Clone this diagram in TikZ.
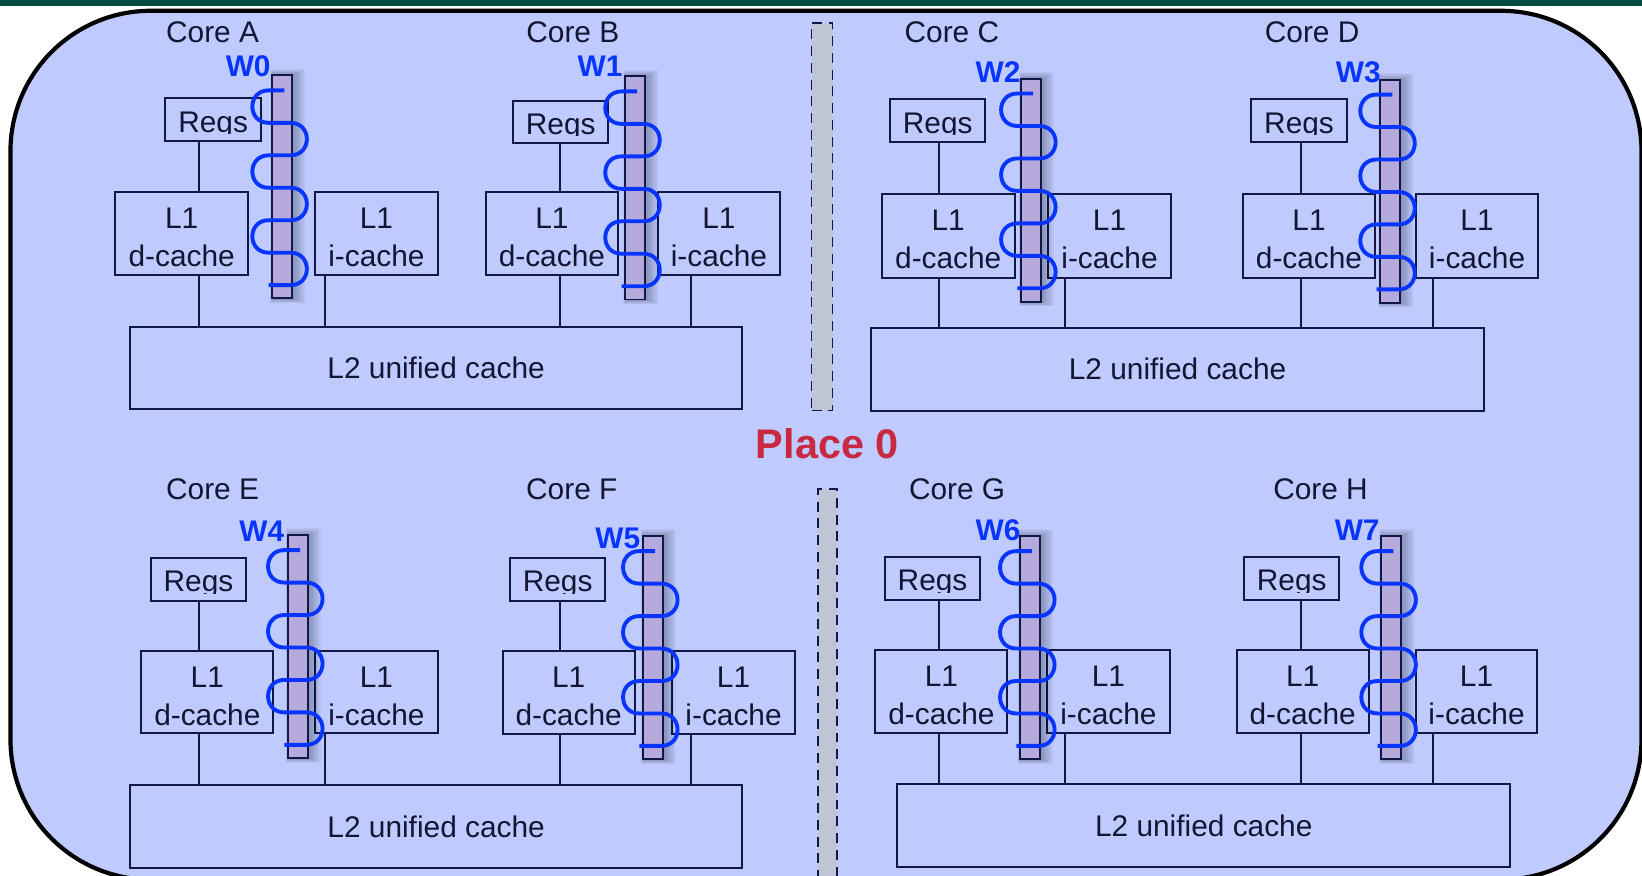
\documentclass[tikz,border=0pt]{standalone}
\usepackage{fontspec}
\newfontfamily\cf{Liberation Sans}
\definecolor{bg}{RGB}{191,202,254}
\definecolor{band}{RGB}{0,77,64}
\definecolor{navy}{RGB}{16,24,72}
\definecolor{ink}{RGB}{18,22,50}
\definecolor{barfill}{RGB}{181,170,218}
\definecolor{sepfill}{RGB}{190,198,214}
\definecolor{wblue}{RGB}{8,52,255}
\definecolor{pred}{RGB}{200,40,64}
\newcommand\cachetxt[2]{\raisebox{-6.1pt}[\height][\depth]{\begin{tabular}{@{}c@{}}#1\\#2\end{tabular}}}
\tikzset{
  txt/.style={font=\cf\fontsize{28.5}{36.3}\selectfont, text=ink, inner sep=0pt},
  box/.style={draw=navy, line width=1.9pt, anchor=north west, inner sep=0pt, outer sep=0pt, align=center, txt},
  dbox/.style={box, minimum width=127pt, minimum height=80pt},
  ibox/.style={box, minimum width=117pt, minimum height=80pt},
  l2box/.style={box, minimum width=585pt, minimum height=79pt},
  regs/.style={box, minimum width=91pt, minimum height=41pt,
    path picture={\clip ([yshift=7.4pt]path picture bounding box.south west) rectangle (path picture bounding box.north east);
      \node[txt, anchor=base] at ([yshift=8.8pt]path picture bounding box.south) {Regs};}},
  bar/.style={draw=navy, line width=1.9pt, fill=barfill, anchor=north west, inner sep=0pt, outer sep=0pt, minimum width=19pt, minimum height=213pt},
  wave/.style={draw=wblue, line width=3.7pt},
  wire/.style={draw=navy, line width=1.9pt},
  wlab/.style={font=\cf\bfseries\fontsize{28.5}{34}\selectfont, text=wblue, inner sep=0pt},
  sepbar/.style={draw=navy, line width=1.7pt, dash pattern=on 9.5pt off 6.5pt, fill=sepfill, anchor=north west, inner sep=0pt, outer sep=0pt},
}
\newcommand\threadbar[3]{%
  \foreach \i in {0,...,6}{\fill[black,opacity=0.04] ({#2+1-0.5*\i},{#3-1-0.9*\i}) rectangle ({#2+22+1.6*\i},{#3+214+0.6*\i});}
  \node[bar] (#1) at (#2,#3) {};
  \draw[wave] ({#2+11.5},{#3+14.3}) -- ({#2-3.5},{#3+14.3})
    foreach \k in {0,1,2}{
      .. controls ({#2-24.2},{#3+14.3+62*\k}) and ({#2-24.2},{#3+14.3+62*\k+31}) .. ({#2-3.5},{#3+14.3+62*\k+31})
      -- ({#2+17.5},{#3+14.3+62*\k+31})
      .. controls ({#2+38.2},{#3+14.3+62*\k+31}) and ({#2+38.2},{#3+14.3+62*\k+62}) .. ({#2+17.5},{#3+14.3+62*\k+62})
      -- ({#2-3.5},{#3+14.3+62*\k+62})
    };
}
\begin{document}
\begin{tikzpicture}[x=1pt,y=-1pt]
\useasboundingbox (0,0) rectangle (1568,836);
\clip (0,0) rectangle (1568,836);
\fill[white] (0,0) rectangle (1568,836);
\fill[band] (0,0) rectangle (1568,5.7);
\draw[line width=4pt, fill=bg, rounded corners=134pt] (10,10.3) rectangle (1567.5,840);

% separators
\node[sepbar, minimum width=20pt, minimum height=370pt] (sepT) at (775,22) {};
\node[sepbar, minimum width=18pt, minimum height=400pt] (sepB) at (781,467) {};

% L2 caches
\node[l2box] (L2a) at (124,312) {L2 unified cache};
\node[l2box] (L2b) at (832,313) {L2 unified cache};
\node[l2box] (L2c) at (124,750) {L2 unified cache};
\node[l2box] (L2d) at (857,749) {L2 unified cache};

\node[font=\cf\bfseries\fontsize{39.5}{44}\selectfont, text=pred, inner sep=0pt] (place) at (790,424) {Place 0};

% ---- Core A
\node[txt] (cA) at (203,31) {Core A};
\node[regs] (rA) at (158,94) {};
\node[dbox] (dA) at (110,183) {\cachetxt{L1}{d-cache}};
\node[ibox] (iA) at (301,183) {\cachetxt{L1}{i-cache}};
\coordinate (xA1) at (190,0); \coordinate (xA2) at (310,0);
\draw[wire] (rA.south -| xA1) -- (dA.north -| xA1);
\draw[wire] (dA.south -| xA1) -- (L2a.north -| xA1);
\draw[wire] (iA.south -| xA2) -- (L2a.north -| xA2);
\threadbar{tA}{260}{72}
\node[wlab] (wA) at (237,63) {W0};

% ---- Core B
\node[txt] (cB) at (547,31) {Core B};
\node[regs] (rB) at (490,96) {};
\node[dbox, minimum width=126pt] (dB) at (464,183) {\cachetxt{L1}{d-cache}};
\node[ibox] (iB) at (628,183) {\cachetxt{L1}{i-cache}};
\coordinate (xB1) at (535,0); \coordinate (xB2) at (660,0);
\draw[wire] (rB.south -| xB1) -- (dB.north -| xB1);
\draw[wire] (dB.south -| xB1) -- (L2a.north -| xB1);
\draw[wire] (iB.south -| xB2) -- (L2a.north -| xB2);
\threadbar{tB}{597}{73}
\node[wlab] (wB) at (573,63) {W1};

% ---- Core C
\node[txt] (cC) at (909,31) {Core C};
\node[regs] (rC) at (850,95) {};
\node[dbox] (dC) at (842,185) {\cachetxt{L1}{d-cache}};
\node[ibox] (iC) at (1001,185) {\cachetxt{L1}{i-cache}};
\coordinate (xC1) at (897,0); \coordinate (xC2) at (1017,0);
\draw[wire] (rC.south -| xC1) -- (dC.north -| xC1);
\draw[wire] (dC.south -| xC1) -- (L2b.north -| xC1);
\draw[wire] (iC.south -| xC2) -- (L2b.north -| xC2);
\threadbar{tC}{975}{75}
\node[wlab] (wC) at (953,69) {W2};

% ---- Core D
\node[txt] (cD) at (1253,31) {Core D};
\node[regs] (rD) at (1195,95) {};
\node[dbox, minimum width=126pt] (dD) at (1187,185) {\cachetxt{L1}{d-cache}};
\node[ibox] (iD) at (1352,185) {\cachetxt{L1}{i-cache}};
\coordinate (xD1) at (1242,0); \coordinate (xD2) at (1368,0);
\draw[wire] (rD.south -| xD1) -- (dD.north -| xD1);
\draw[wire] (dD.south -| xD1) -- (L2b.north -| xD1);
\draw[wire] (iD.south -| xD2) -- (L2b.north -| xD2);
\threadbar{tD}{1318}{76}
\node[wlab] (wD) at (1297,69) {W3};

% ---- Core E
\node[txt] (cE) at (203,467) {Core E};
\node[regs] (rE) at (144,533) {};
\node[dbox, minimum width=126pt, minimum height=78pt] (dE) at (135,622) {\cachetxt{L1}{d-cache}};
\node[ibox, minimum height=78pt] (iE) at (301,622) {\cachetxt{L1}{i-cache}};
\coordinate (xE1) at (190,0); \coordinate (xE2) at (310,0);
\draw[wire] (rE.south -| xE1) -- (dE.north -| xE1);
\draw[wire] (dE.south -| xE1) -- (L2c.north -| xE1);
\draw[wire] (iE.south -| xE2) -- (L2c.north -| xE2);
\threadbar{tE}{275}{511}
\node[wlab] (wE) at (250,507) {W4};

% ---- Core F
\node[txt] (cF) at (546,467) {Core F};
\node[regs] (rF) at (487,533) {};
\node[dbox, minimum width=126pt, minimum height=79pt] (dF) at (480,622) {\cachetxt{L1}{d-cache}};
\node[ibox, minimum height=79pt] (iF) at (642,622) {\cachetxt{L1}{i-cache}};
\coordinate (xF1) at (535,0); \coordinate (xF2) at (660,0);
\draw[wire] (rF.south -| xF1) -- (dF.north -| xF1);
\draw[wire] (dF.south -| xF1) -- (L2c.north -| xF1);
\draw[wire] (iF.south -| xF2) -- (L2c.north -| xF2);
\threadbar{tF}{614}{512}
\node[wlab] (wF) at (590,514) {W5};

% ---- Core G
\node[txt] (cG) at (914,467) {Core G};
\node[regs] (rG) at (845,532) {};
\node[dbox, minimum width=126pt, minimum height=79pt] (dG) at (836,621) {\cachetxt{L1}{d-cache}};
\node[ibox, minimum height=79pt] (iG) at (1000,621) {\cachetxt{L1}{i-cache}};
\coordinate (xG1) at (897,0); \coordinate (xG2) at (1017,0);
\draw[wire] (rG.south -| xG1) -- (dG.north -| xG1);
\draw[wire] (dG.south -| xG1) -- (L2d.north -| xG1);
\draw[wire] (iG.south -| xG2) -- (L2d.north -| xG2);
\threadbar{tG}{974}{512}
\node[wlab] (wG) at (953,506) {W6};

% ---- Core H
\node[txt] (cH) at (1261,467) {Core H};
\node[regs] (rH) at (1188,532) {};
\node[dbox, minimum width=126pt, minimum height=79pt] (dH) at (1181,621) {\cachetxt{L1}{d-cache}};
\node[ibox, minimum width=116pt, minimum height=79pt] (iH) at (1352,621) {\cachetxt{L1}{i-cache}};
\coordinate (xH1) at (1242,0); \coordinate (xH2) at (1368,0);
\draw[wire] (rH.south -| xH1) -- (dH.north -| xH1);
\draw[wire] (dH.south -| xH1) -- (L2d.north -| xH1);
\draw[wire] (iH.south -| xH2) -- (L2d.north -| xH2);
\threadbar{tH}{1319}{512}
\node[wlab] (wH) at (1296,506) {W7};
\end{tikzpicture}
\end{document}
